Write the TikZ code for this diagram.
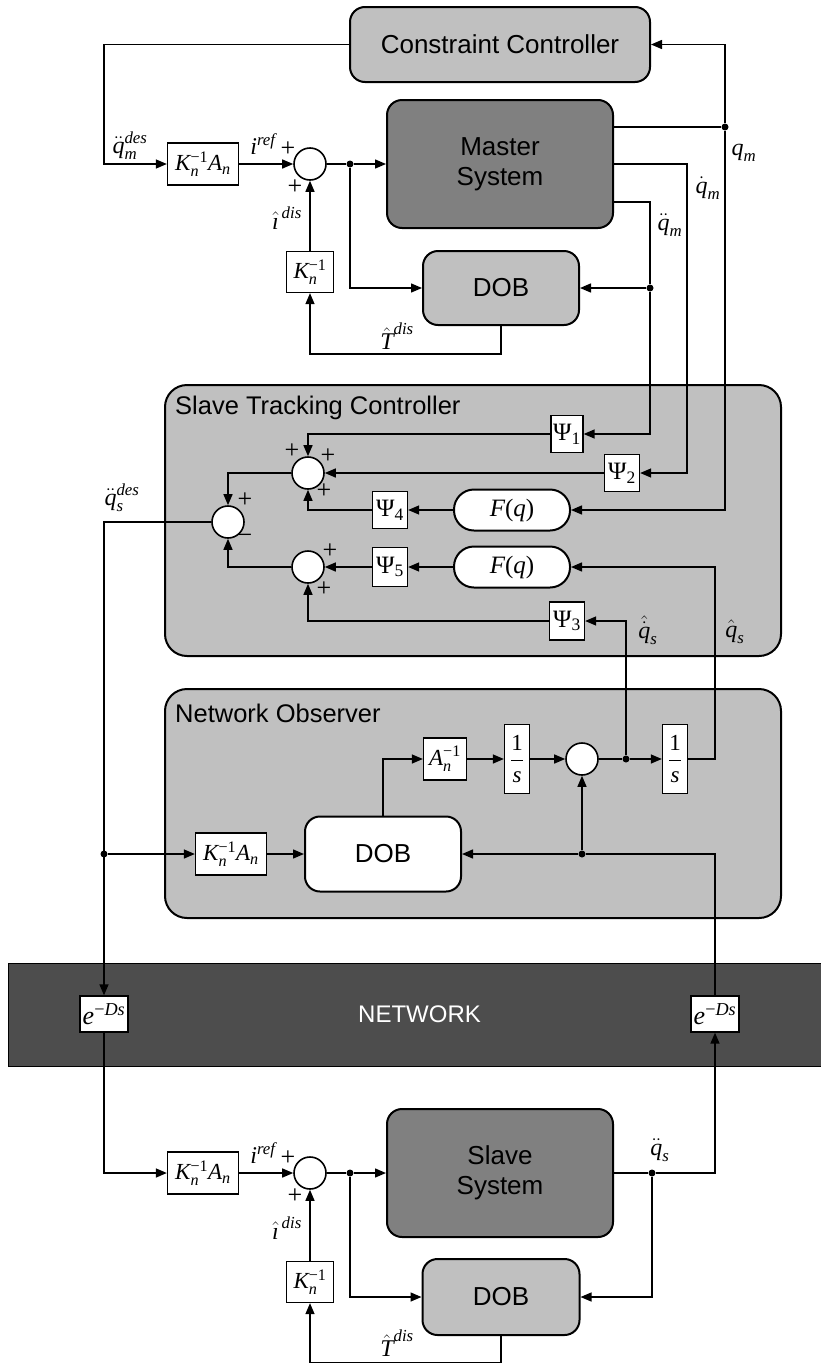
\RequirePackage{fix-cm}
\documentclass[tikz,border=0pt]{standalone}
\usepackage{amsmath}
\usepackage{fontspec}
\newfontfamily\lsans{Liberation Sans}
\newfontfamily\tms{Liberation Serif}
\newcommand\vi[1]{\text{\tms\itshape #1}}
\newcommand\vu[1]{\text{\tms #1}}
\usetikzlibrary{arrows.meta}
\definecolor{lightg}{RGB}{192,192,192}
\definecolor{darkg}{RGB}{128,128,128}
\definecolor{netg}{RGB}{77,77,77}
\tikzset{
  ln/.style={line width=1.4pt},
  arr/.style={ln,-{Triangle[length=11pt,width=9pt]}},
  blk/.style={draw,line width=1.3pt,fill=white,inner sep=1pt,font=\fontsize{23}{27}\selectfont},
  psib/.style={blk,font=\fontsize{25}{29}\selectfont},
  rbox/.style={draw,line width=2pt,rounded corners=15pt,align=center,font=\lsans\fontsize{26}{30}\selectfont},
  panel/.style={draw,line width=2pt,rounded corners=22pt,fill=lightg},
  ptitle/.style={anchor=west,font=\lsans\fontsize{25.5}{29}\selectfont,inner sep=0pt},
  sumc/.style={circle,draw,line width=1.6pt,fill=white,minimum size=32pt,inner sep=0pt},
  jdot/.style={circle,fill,inner sep=0pt,minimum size=7pt},
  fq/.style={draw,line width=2pt,fill=white,rounded corners=20pt,minimum width=116pt,minimum height=41pt,font=\tms\fontsize{25}{29}\selectfont},
  lab/.style={font=\fontsize{24}{28}\selectfont,inner sep=0pt},
  sgn/.style={font=\tms\fontsize{26}{28}\selectfont,inner sep=0pt},
}
\begin{document}
\begin{tikzpicture}[x=1pt,y=-1pt]
\useasboundingbox (0,0) rectangle (821,1363);
\fill[white] (0,0) rectangle (821,1363);

% ---------- panels ----------
\node[panel,minimum width=616pt,minimum height=271pt] (stc) at (473,520.5) {};
\node[ptitle] (stct) at (175,408) {Slave Tracking Controller};
\node[panel,minimum width=616pt,minimum height=229pt] (nob) at (473,803.5) {};
\node[ptitle] (nobt) at (175,713) {Network Observer};
\node[draw,line width=1pt,fill=netg,minimum width=813pt,minimum height=103pt,text=white,font=\lsans\fontsize{24}{28}\selectfont] (net) at (414.5,1014.5) {\hspace*{10pt}NETWORK};

% ---------- master side ----------
\node[rbox,fill=lightg,minimum width=300pt,minimum height=75pt] (cc) at (500,44.5) {Constraint Controller};
\node[rbox,fill=darkg,minimum width=226pt,minimum height=128pt] (ms) at (500,164) {Master\\System};
\node[rbox,fill=lightg,minimum width=156pt,minimum height=74pt] (dob1) at (501,288) {DOB};
\node[blk,minimum width=71pt,minimum height=42pt] (kA1) at (203,164) {$\vi{K}_{\vi{n}}^{\vu{−1}}\vi{A}_{\vi{n}}$};
\node[sumc] (sum1) at (310,164) {};
\node[blk,minimum width=47pt,minimum height=41pt] (ki1) at (310,272) {$\vi{K}_{\vi{n}}^{\vu{−1}}$};
\node[jdot] (j1) at (350,164) {};
\node[jdot] (jqm) at (725,127) {};
\node[jdot] (jqdd) at (650,288) {};
\coordinate (bqd) at (687,164);
\coordinate (bqdd1) at (613,202);
\coordinate (bqdd2) at (650,202);

% ---------- slave tracking controller ----------
\node[psib,minimum width=32pt,minimum height=37pt] (p1) at (567,434) {$\vu{Ψ}_{\vu{1}}$};
\node[psib,minimum width=35pt,minimum height=37pt] (p2) at (622,473) {$\vu{Ψ}_{\vu{2}}$};
\node[fq] (f1) at (512,510) {{\itshape F}({\itshape q})};
\node[psib,minimum width=35pt,minimum height=37pt] (p4) at (390,510) {$\vu{Ψ}_{\vu{4}}$};
\node[sumc] (s1) at (308,473) {};
\node[sumc] (s3) at (228,522) {};
\node[sumc] (s2) at (308,567) {};
\node[psib,minimum width=35pt,minimum height=39pt] (p5) at (390,567) {$\vu{Ψ}_{\vu{5}}$};
\node[fq] (f2) at (512,567) {{\itshape F}({\itshape q})};
\node[psib,minimum width=35pt,minimum height=38pt] (p3) at (567,621) {$\vu{Ψ}_{\vu{3}}$};

% ---------- network observer ----------
\node[jdot] (jn) at (104,854) {};
\node[blk,minimum width=71pt,minimum height=42pt] (kA2) at (231,854) {$\vi{K}_{\vi{n}}^{\vu{−1}}\vi{A}_{\vi{n}}$};
\node[rbox,fill=white,minimum width=156pt,minimum height=75pt] (dob2) at (383,854) {DOB};
\node[blk,minimum width=43pt,minimum height=42pt] (ai) at (445,759) {$\vi{A}_{\vi{n}}^{\vu{−1}}$};
\node[blk,minimum width=25pt,minimum height=69pt,inner sep=1pt] (is1) at (517,759) {$\displaystyle\frac{\vu{1}}{\vi{s}}$};
\node[sumc] (s4) at (582,759) {};
\node[jdot] (jd) at (626,759) {};
\node[blk,minimum width=25pt,minimum height=69pt,inner sep=1pt] (is2) at (675,759) {$\displaystyle\frac{\vu{1}}{\vi{s}}$};
\node[jdot] (jb) at (582,854) {};

% ---------- network delays ----------
\node[blk,minimum width=48pt,minimum height=36pt,inner sep=1pt,font=\fontsize{26}{30}\selectfont] (ed1) at (104,1014) {$\vi{e}^{\vu{−}\vi{Ds}}$};
\node[blk,minimum width=48pt,minimum height=36pt,inner sep=1pt,font=\fontsize{26}{30}\selectfont] (ed2) at (715,1014) {$\vi{e}^{\vu{−}\vi{Ds}}$};

% ---------- slave side ----------
\node[blk,minimum width=71pt,minimum height=42pt] (kA3) at (203,1173) {$\vi{K}_{\vi{n}}^{\vu{−1}}\vi{A}_{\vi{n}}$};
\node[sumc] (sum2) at (310,1173) {};
\node[jdot] (j3) at (350,1173) {};
\node[rbox,fill=darkg,minimum width=226pt,minimum height=128pt] (ss) at (500,1173) {Slave\\System};
\node[jdot] (jqs) at (652,1173) {};
\node[rbox,fill=lightg,minimum width=157pt,minimum height=76pt] (dob3) at (501,1297) {DOB};
\node[blk,minimum width=47pt,minimum height=41pt] (ki2) at (310,1282) {$\vi{K}_{\vi{n}}^{\vu{−1}}$};

% ---------- connectors: master ----------
\draw[arr] (cc.west) -| (jn |- kA1.west) -- (kA1.west);
\draw[arr] (kA1.east) -- (sum1.west);
\draw[ln] (sum1.east) -- (j1);
\draw[arr] (j1) -- (ms.west);
\draw[arr] (j1) |- (dob1.west);
\draw[arr] (dob1.south) -- ++(0,28) -| (ki1.south);
\draw[arr] (ki1.north) -- (sum1.south);
\draw[ln] (ms.east |- jqm) -- (jqm);
\draw[arr] (jqm) |- (cc.east);
\draw[arr] (jqm) |- (f1.east);
\draw[arr] (ms.east) -- (bqd) |- (p2.east);
\draw[ln] (bqdd1) -- (bqdd2) -- (jqdd);
\draw[arr] (jqdd) -- (dob1.east);
\draw[arr] (jqdd) |- (p1.east);

% ---------- connectors: slave tracking controller ----------
\draw[arr] (p1.west) -| (s1.north);
\draw[arr] (p2.west) -- (s1.east);
\draw[arr] (f1.west) -- (p4.east);
\draw[arr] (p4.west) -| (s1.south);
\draw[arr] (s1.west) -| (s3.north);
\draw[arr] (f2.west) -- (p5.east);
\draw[arr] (p5.west) -- (s2.east);
\draw[arr] (p3.west) -| (s2.south);
\draw[arr] (s2.west) -| (s3.south);
\draw[arr] (s3.west) -| (ed1.north);

% ---------- connectors: network observer ----------
\draw[arr] (jn) -- (kA2.west);
\draw[arr] (kA2.east) -- (dob2.west);
\draw[arr] (dob2.north) |- (ai.west);
\draw[arr] (ai.east) -- (is1.west);
\draw[arr] (is1.east) -- (s4.west);
\draw[ln] (s4.east) -- (jd);
\draw[arr] (jd) -- (is2.west);
\draw[arr] (jd) |- (p3.east);
\draw[arr] (is2.east) -| (ed2 |- f2.east) -- (f2.east);
\draw[ln] (ed2.north) |- (jb);
\draw[arr] (jb) -- (dob2.east);
\draw[arr] (jb) -- (s4.south);

% ---------- connectors: slave ----------
\draw[arr] (ed1.south) |- (kA3.west);
\draw[arr] (kA3.east) -- (sum2.west);
\draw[ln] (sum2.east) -- (j3);
\draw[arr] (j3) -- (ss.west);
\draw[arr] (j3) |- (dob3.west);
\draw[ln] (ss.east) -- (jqs);
\draw[arr] (jqs) -| (ed2.south);
\draw[arr] (jqs) |- (dob3.east);
\draw[arr] (dob3.south) -- ++(0,27) -| (ki2.south);
\draw[arr] (ki2.north) -- (sum2.south);

% ---------- labels ----------
\node[lab] (lqmdes) at (130,146) {$\ddot{\vi{q}}_{\vi{m}}^{\vi{des}}$};
\node[lab] (liref1) at (263,144) {$\vi{i}^{\vi{ref}}$};
\node[sgn] (sg1) at (288,149) {+};
\node[sgn] (sg2) at (295,187) {+};
\node[lab] (lidis1) at (287,218) {$\hat{\vi{ı}}^{\vi{\,dis}}$};
\node[lab] (lTdis1) at (397,336) {$\hat{\vi{T}}^{\vi{dis}}$};
\node[lab] (lqm) at (744,153) {$\vi{q}_{\vi{m}}$};
\node[lab] (lqdm) at (708,188) {$\dot{\vi{q}}_{\vi{m}}$};
\node[lab] (lqddm) at (670,225) {$\ddot{\vi{q}}_{\vi{m}}$};

\node[sgn] (sg3) at (292,451) {+};
\node[sgn] (sg4) at (328,456) {+};
\node[sgn] (sg5) at (324,491) {+};
\node[sgn] (sg6) at (245,500) {+};
\node[sgn] (sg7) at (245,539) {−};
\node[sgn] (sg8) at (330,551) {+};
\node[sgn] (sg9) at (324,589) {+};
\node[lab] (lqsdes) at (122,498) {$\ddot{\vi{q}}_{\vi{s}}^{\vi{des}}$};
\node[lab] (lqhd) at (648,630) {$\hat{\dot{\vi{q}}}_{\vi{s}}$};
\node[lab] (lqh) at (735,632) {$\hat{\vi{q}}_{\vi{s}}$};

\node[lab] (liref2) at (263,1153) {$\vi{i}^{\vi{ref}}$};
\node[sgn] (sg10) at (288,1158) {+};
\node[sgn] (sg11) at (295,1196) {+};
\node[lab] (lidis2) at (287,1228) {$\hat{\vi{ı}}^{\vi{\,dis}}$};
\node[lab] (lTdis2) at (397,1343) {$\hat{\vi{T}}^{\vi{dis}}$};
\node[lab] (lqdds) at (660,1150) {$\ddot{\vi{q}}_{\vi{s}}$};
\end{tikzpicture}
\end{document}
